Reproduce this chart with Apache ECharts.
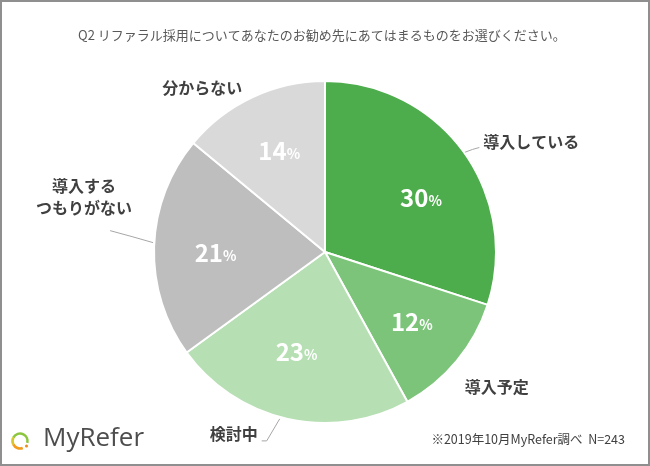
<!DOCTYPE html>
<html>
<head>
<meta charset="utf-8">
<script src="https://cdn.jsdelivr.net/npm/echarts@6/dist/echarts.min.js"></script>
<style>
html,body{margin:0;padding:0;background:#fff;}
#c{width:650px;height:466px;}
</style>
</head>
<body>
<div id="c"></div>
<script>
// ---- data ----
const categories = ['導入している', '導入予定', '検討中', '導入するつもりがない', '分からない'];
const outerLabelText = ['導入している', '導入予定', '検討中', '導入する\nつもりがない', '分からない'];
const values = [30, 12, 23, 21, 14];
const titleText = 'Q2 リファラル採用についてあなたのお勧め先にあてはまるものをお選びください。';
const noteText = '※2019年10月MyRefer調べ  N=243';
const logoText = 'MyRefer';

// ---- styles ----
const colors = ['#4dac4b', '#7cc47a', '#b6dfb3', '#bebebe', '#d9d9d9'];
const innerShift = [[9, 9], [4, 1], [-5, -5], [-2, 4], [0, -4]];
// outer label placement relative to the slice edge point
const outerPlace = [
  { t: [20, -10], align: 'left', line: [[1, 1], [9, -2], [16, -4]] },
  { t: [8, 26], align: 'left', line: null },
  { t: [-30, 15], align: 'right', line: [[-8, 0], [-21, 22], [-26, 22]] },
  { t: [-70, -50], align: 'center', line: [[-1, -4], [-22, -10], [-44, -16]] },
  { t: [-10, -9], align: 'right', line: null }
];

const CJK = '"Noto Sans CJK JP", "Noto Sans", sans-serif';
const chart = echarts.init(document.getElementById('c'), null, { renderer: 'canvas' });

const center = [325, 252];
const R = 171;

const mainData = categories.map((c, i) => ({
  name: c,
  value: values[i],
  itemStyle: { color: colors[i] }
}));
const innerData = categories.map((c, i) => ({
  name: c,
  value: values[i],
  label: { offset: innerShift[i] }
}));

function ringArc(a0, a1, col) {
  return {
    type: 'arc',
    shape: { cx: 20, cy: 441, r: 7.5, startAngle: a0 * Math.PI, endAngle: a1 * Math.PI, clockwise: true },
    style: { fill: 'none', stroke: col, lineWidth: 2.6 },
    silent: true
  };
}

const option = {
  animation: false,
  title: {
    text: titleText,
    left: 73,
    top: 24,
    textStyle: { fontFamily: CJK, fontSize: 13, fontWeight: 'normal', color: '#595959' }
  },
  graphic: [
    {
      type: 'rect',
      shape: { x: 1, y: 1, width: 648, height: 464 },
      style: { fill: 'none', stroke: '#8f8f8f', lineWidth: 2 },
      silent: true
    },
    ringArc(1.15, 2.08, '#8cc63f'),
    ringArc(0.85, 1.15, '#d7c52a'),
    ringArc(0.38, 0.85, '#f29b1d'),
    {
      type: 'circle',
      shape: { cx: 26.5, cy: 446, r: 1.5 },
      style: { fill: '#ef8a1a' },
      silent: true
    },
    {
      type: 'text',
      left: 43,
      top: 426,
      style: { text: logoText, font: '400 26px "Open Sans", "Noto Sans", sans-serif', fill: '#4d4d4d' }
    },
    {
      type: 'text',
      right: 25,
      top: 433,
      style: { text: noteText, font: '12.5px ' + CJK, fill: '#404040' }
    }
  ],
  series: [
    {
      type: 'pie',
      center: center,
      radius: R,
      startAngle: 90,
      clockwise: true,
      avoidLabelOverlap: false,
      silent: true,
      data: mainData,
      itemStyle: { borderColor: '#ffffff', borderWidth: 2 },
      label: {
        show: true,
        position: 'outside',
        formatter: p => outerLabelText[p.dataIndex],
        fontFamily: CJK,
        fontSize: 16,
        fontWeight: 'bold',
        color: '#404040',
        lineHeight: 22
      },
      labelLine: {
        show: true,
        length: 10,
        length2: 10,
        lineStyle: { color: '#a6a6a6', width: 1 }
      },
      labelLayout: function (p) {
        const i = p.dataIndex;
        const vSum = values.reduce((a, b) => a + b, 0);
        let before = 0;
        for (let k = 0; k < i; k++) before += values[k];
        const mid = (before + values[i] / 2) / vSum * Math.PI * 2;
        const e = [center[0] + R * Math.sin(mid), center[1] - R * Math.cos(mid)];
        const o = outerPlace[i];
        const pts = o.line
          ? o.line.map(d => [e[0] + d[0], e[1] + d[1]])
          : [[e[0], e[1]], [e[0], e[1]], [e[0], e[1]]];
        return {
          x: e[0] + o.t[0],
          y: e[1] + o.t[1],
          align: o.align,
          verticalAlign: 'middle',
          labelLinePoints: pts
        };
      }
    },
    {
      type: 'pie',
      center: center,
      radius: [38, R],
      startAngle: 90,
      clockwise: true,
      silent: true,
      avoidLabelOverlap: false,
      z: 5,
      data: innerData,
      itemStyle: { color: 'rgba(0,0,0,0)', borderWidth: 0 },
      labelLine: { show: false },
      label: {
        show: true,
        position: 'inside',
        formatter: p => '{n|' + p.value + '}{p|%}',
        rich: {
          n: { fontFamily: CJK, fontSize: 24, fontWeight: 'bold', color: '#ffffff' },
          p: { fontFamily: CJK, fontSize: 14, fontWeight: 'bold', color: '#ffffff', padding: [6, 0, 0, 0] }
        }
      }
    }
  ]
};
chart.setOption(option);
</script>
</body>
</html>
